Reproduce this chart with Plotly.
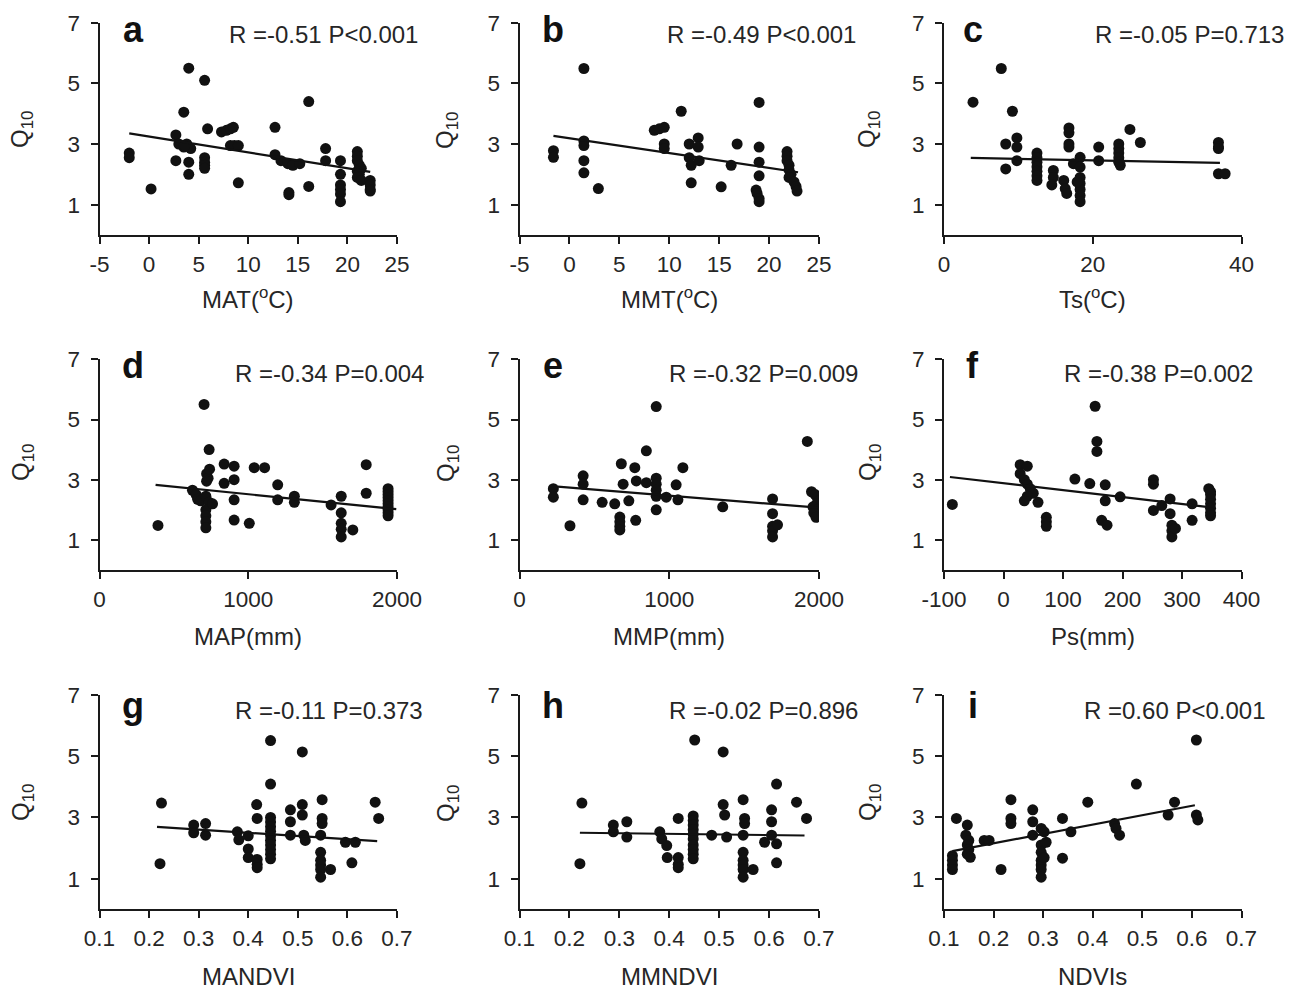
import plotly.graph_objects as go

W, H = 1296, 990

# ---------------- data ----------------
q_a_x = [-2, -2, 0.2, 2.7, 2.7, 3.0, 3.5, 3.8, 4.2, 3.6, 4.0, 3.5, 4.0, 4.0, 5.6, 5.6, 5.6, 5.6, 5.6, 5.9,
         7.3, 7.8, 8.2, 8.5, 8.2, 8.6, 9.0, 9.0, 12.7, 12.7, 13.3, 14.0, 14.5, 15.2, 14.1, 14.1, 16.1, 16.1,
         17.8, 17.8, 19.3, 19.3, 19.3, 19.3, 19.3, 19.3, 21.0, 21.0, 21.0, 21.2, 21.4, 21.0, 21.2, 21.0, 21.4,
         22.3, 22.3, 22.3, 22.3]
q_a_y = [2.7, 2.55, 1.52, 3.3, 2.45, 3.0, 2.9, 3.0, 2.85, 2.95, 5.5, 4.05, 2.4, 2.0, 5.1, 2.55, 2.4, 2.3, 2.2, 3.5,
         3.4, 3.45, 3.5, 3.55, 2.95, 2.95, 2.95, 1.72, 3.55, 2.65, 2.45, 2.35, 2.3, 2.35, 1.4, 1.33, 4.4, 1.6,
         2.85, 2.45, 2.45, 2.0, 1.65, 1.5, 1.35, 1.1, 2.75, 2.6, 2.45, 2.3, 2.2, 2.1, 2.0, 1.9, 1.8,
         1.8, 1.65, 1.5, 1.45]
fit_a_x = [-2, 22.3]
fit_a_y = [3.35, 2.08]

q_b_x = [-1.6, -1.6, 1.45, 1.45, 1.45, 1.45, 1.45, 2.9, 8.5, 9.0, 9.5, 9.5, 9.5, 11.2, 12.0, 12.0, 12.2, 12.2,
         12.9, 12.9, 13.0, 15.2, 16.2, 16.8, 19.0, 19.0, 19.0, 19.0, 18.7, 18.8, 19.0, 19.0,
         21.8, 21.8, 21.8, 22.0, 22.0, 22.2, 22.0, 22.5, 22.7, 22.8]
q_b_y = [2.78, 2.56, 5.49, 3.1, 2.95, 2.45, 2.05, 1.53, 3.45, 3.5, 3.55, 3.0, 2.85, 4.08, 3.0, 2.55, 2.3, 1.72,
         3.2, 2.9, 2.45, 1.59, 2.3, 3.0, 4.37, 2.9, 2.4, 1.95, 1.48, 1.37, 1.2, 1.1,
         2.75, 2.6, 2.45, 2.3, 2.15, 2.0, 1.9, 1.75, 1.6, 1.45]
fit_b_x = [-1.6, 22.9]
fit_b_y = [3.27, 2.07]

q_c_x = [3.9, 7.7, 9.2, 8.3, 8.3, 9.8, 9.8, 9.8, 12.5, 12.5, 12.5, 12.5, 12.5, 12.5, 12.5, 14.7, 14.7, 14.5,
         16.1, 16.3, 16.5, 16.8, 16.8, 16.8, 16.8, 17.4, 18.3, 18.3, 18.3, 18.3, 18.3, 18.3, 18.3, 17.9,
         20.8, 20.8, 23.5, 23.5, 23.5, 23.5, 23.5, 23.7, 25.0, 26.4, 36.9, 36.9, 36.9, 36.9, 37.8]
q_c_y = [4.38, 5.49, 4.08, 3.0, 2.18, 3.2, 2.9, 2.45, 2.7, 2.55, 2.4, 2.25, 2.1, 1.95, 1.8, 2.13, 1.9, 1.65,
         1.8, 1.53, 1.37, 3.53, 3.37, 3.0, 2.9, 2.35, 2.56, 2.24, 1.9, 1.7, 1.5, 1.3, 1.1, 1.75,
         2.9, 2.45, 3.0, 2.85, 2.7, 2.55, 2.4, 2.3, 3.48, 3.05, 3.05, 2.9, 2.85, 2.02, 2.02]
fit_c_x = [3.6, 37.1]
fit_c_y = [2.54, 2.38]

q_d_x = [393, 703, 737, 625, 650, 660, 680, 720, 730, 720, 740, 715, 737, 715, 715, 715, 715, 760,
         838, 905, 838, 905, 905, 905, 1007, 1040, 1110, 1198, 1198, 1310, 1310, 1557, 1625, 1625, 1625,
         1625, 1625, 1703, 1793, 1793, 1940, 1940, 1940, 1940, 1940, 1940, 1940, 1940, 1940, 1940]
q_d_y = [1.48, 5.5, 4.0, 2.65, 2.5, 2.35, 2.3, 3.2, 3.05, 2.95, 3.35, 2.45, 2.25, 2.0, 1.8, 1.6, 1.4, 2.2,
         3.52, 3.45, 2.88, 3.0, 2.33, 1.66, 1.55, 3.4, 3.4, 2.83, 2.33, 2.45, 2.25, 2.16, 2.45, 1.9, 1.55,
         1.35, 1.1, 1.33, 3.5, 2.55, 2.7, 2.6, 2.5, 2.4, 2.3, 2.2, 2.1, 2.0, 1.9, 1.8]
fit_d_x = [377, 1995]
fit_d_y = [2.83, 2.02]

q_e_x = [226, 226, 337, 425, 425, 425, 552, 636, 670, 670, 670, 670, 680, 692, 730, 770, 780, 776, 847, 847,
         913, 913, 913, 913, 913, 913, 980, 1046, 1058, 1091, 1357, 1690, 1690, 1690, 1690, 1690, 1723,
         1922, 1950, 1975, 1990, 2000, 1985, 1960, 1990, 1965, 1980]
q_e_y = [2.7, 2.42, 1.47, 3.13, 2.85, 2.33, 2.25, 2.2, 1.76, 1.6, 1.45, 1.33, 3.53, 2.85, 2.3, 3.4, 2.96, 1.65,
         3.96, 2.9, 5.43, 3.05, 2.85, 2.65, 2.45, 2.0, 2.42, 2.83, 2.33, 3.4, 2.1, 2.36, 1.87, 1.45, 1.3,
         1.1, 1.5, 4.27, 2.6, 2.5, 2.4, 2.3, 2.2, 2.1, 2.0, 1.9, 1.75]
fit_e_x = [255, 1995]
fit_e_y = [2.77, 2.07]

q_f_x = [-86, 28, 40, 28, 35, 40, 45, 50, 40, 35, 58, 72, 72, 72, 120, 145, 154, 157, 157, 171, 171,
         165, 174, 196, 252, 252, 252, 266, 280, 280, 283, 283, 283, 289, 317, 317,
         348, 348, 348, 348, 348, 348, 348, 345]
q_f_y = [2.18, 3.5, 3.45, 3.2, 3.0, 2.85, 2.7, 2.55, 2.45, 2.3, 2.25, 1.75, 1.6, 1.45, 3.02, 2.87, 5.44, 4.27,
         3.94, 2.83, 2.3, 1.65, 1.49, 2.43, 3.0, 2.85, 1.98, 2.14, 2.36, 1.87, 1.49, 1.3, 1.1, 1.38, 2.2, 1.65,
         2.6, 2.5, 2.35, 2.2, 2.05, 1.9, 1.8, 2.7]
fit_f_x = [-90, 345]
fit_f_y = [3.09, 2.09]

q_g_x = [0.225, 0.222, 0.29, 0.29, 0.314, 0.314, 0.378, 0.381, 0.4, 0.4, 0.4, 0.417, 0.418, 0.418, 0.418,
         0.418, 0.445, 0.445, 0.445, 0.445, 0.445, 0.445, 0.445, 0.445, 0.445, 0.445, 0.445, 0.445,
         0.485, 0.485, 0.485, 0.509, 0.509, 0.509, 0.512, 0.515, 0.549, 0.549, 0.549, 0.546, 0.546, 0.546,
         0.546, 0.546, 0.546, 0.566, 0.596, 0.616, 0.609, 0.656, 0.663]
q_g_y = [3.47, 1.49, 2.75, 2.5, 2.8, 2.42, 2.53, 2.27, 2.4, 1.97, 1.69, 3.42, 2.97, 1.63, 1.47, 1.36, 5.51, 4.09,
         3.0, 2.85, 2.7, 2.55, 2.4, 2.25, 2.1, 1.95, 1.8, 1.65, 3.25, 2.86, 2.42, 5.14, 3.42, 3.08, 2.42, 2.25,
         3.58, 2.97, 2.8, 2.42, 1.86, 1.6, 1.45, 1.3, 1.05, 1.3, 2.19, 2.19, 1.52, 3.5, 2.97]
fit_g_x = [0.216, 0.66]
fit_g_y = [2.69, 2.23]

q_h_x = [0.225, 0.221, 0.288, 0.288, 0.315, 0.315, 0.381, 0.385, 0.395, 0.396, 0.418, 0.418, 0.418, 0.418,
         0.451, 0.448, 0.448, 0.448, 0.448, 0.448, 0.448, 0.448, 0.448, 0.448, 0.448, 0.485, 0.508, 0.508,
         0.511, 0.515, 0.548, 0.551, 0.551, 0.548, 0.548, 0.548, 0.548, 0.548, 0.548, 0.568, 0.591, 0.605,
         0.605, 0.605, 0.615, 0.615, 0.615, 0.655, 0.675]
q_h_y = [3.47, 1.49, 2.75, 2.53, 2.86, 2.36, 2.53, 2.3, 2.08, 1.69, 2.97, 1.69, 1.47, 1.36, 5.53, 3.05, 2.9,
         2.75, 2.6, 2.45, 2.3, 2.1, 1.95, 1.8, 1.65, 2.42, 5.14, 3.42, 3.08, 2.36, 3.58, 2.97, 2.8, 2.42, 1.86,
         1.6, 1.45, 1.3, 1.05, 1.3, 2.19, 3.25, 2.86, 2.42, 4.09, 2.14, 1.52, 3.5, 2.97]
fit_h_x = [0.221, 0.671]
fit_h_y = [2.5, 2.41]

q_i_x = [0.125, 0.117, 0.117, 0.117, 0.117, 0.147, 0.144, 0.15, 0.147, 0.15, 0.147, 0.153, 0.181, 0.191,
         0.215, 0.235, 0.235, 0.235, 0.279, 0.279, 0.279, 0.296, 0.296, 0.296, 0.296, 0.296, 0.296, 0.296,
         0.302, 0.306, 0.302, 0.339, 0.339, 0.356, 0.39, 0.444, 0.447, 0.454, 0.488, 0.552, 0.565, 0.609,
         0.609, 0.612]
q_i_y = [2.97, 1.75, 1.6, 1.45, 1.3, 2.75, 2.42, 2.25, 2.1, 1.95, 1.8, 1.7, 2.25, 2.25, 1.3, 3.58, 2.97, 2.8,
         3.25, 2.86, 2.42, 2.64, 2.1, 1.86, 1.6, 1.45, 1.3, 1.05, 2.53, 2.19, 1.69, 2.97, 1.67, 2.53, 3.5,
         2.8, 2.64, 2.42, 4.09, 3.08, 3.5, 5.53, 3.08, 2.92]
fit_i_x = [0.117, 0.606]
fit_i_y = [1.9, 3.4]

panel_letters = ["a", "b", "c", "d", "e", "f", "g", "h", "i"]
stats_text = ["R =-0.51 P<0.001", "R =-0.49 P<0.001", "R =-0.05 P=0.713",
              "R =-0.34 P=0.004", "R =-0.32 P=0.009", "R =-0.38 P=0.002",
              "R =-0.11 P=0.373", "R =-0.02 P=0.896", "R =0.60 P<0.001"]
x_titles = ["MAT(<sup>o</sup>C)", "MMT(<sup>o</sup>C)", "Ts(<sup>o</sup>C)",
            "MAP(mm)", "MMP(mm)", "Ps(mm)", "MANDVI", "MMNDVI", "NDVIs"]
x_ranges = [[-5, 25], [-5, 25], [0, 40], [0, 2000], [0, 2000], [-100, 400],
            [0.1, 0.7], [0.1, 0.7], [0.1, 0.7]]
x_ticks = [[-5, 0, 5, 10, 15, 20, 25], [-5, 0, 5, 10, 15, 20, 25], [0, 20, 40],
           [0, 1000, 2000], [0, 1000, 2000], [-100, 0, 100, 200, 300, 400],
           [0.1, 0.2, 0.3, 0.4, 0.5, 0.6, 0.7], [0.1, 0.2, 0.3, 0.4, 0.5, 0.6, 0.7],
           [0.1, 0.2, 0.3, 0.4, 0.5, 0.6, 0.7]]
x_tick_text = [["-5", "0", "5", "10", "15", "20", "25"], ["-5", "0", "5", "10", "15", "20", "25"],
               ["0", "20", "40"], ["0", "1000", "2000"], ["0", "1000", "2000"],
               ["-100", "0", "100", "200", "300", "400"],
               ["0.1", "0.2", "0.3", "0.4", "0.5", "0.6", "0.7"], ["0.1", "0.2", "0.3", "0.4", "0.5", "0.6", "0.7"],
               ["0.1", "0.2", "0.3", "0.4", "0.5", "0.6", "0.7"]]
y_range = [0, 7]
y_ticks = [1, 3, 5, 7]

pts = [(q_a_x, q_a_y, fit_a_x, fit_a_y), (q_b_x, q_b_y, fit_b_x, fit_b_y), (q_c_x, q_c_y, fit_c_x, fit_c_y),
       (q_d_x, q_d_y, fit_d_x, fit_d_y), (q_e_x, q_e_y, fit_e_x, fit_e_y), (q_f_x, q_f_y, fit_f_x, fit_f_y),
       (q_g_x, q_g_y, fit_g_x, fit_g_y), (q_h_x, q_h_y, fit_h_x, fit_h_y), (q_i_x, q_i_y, fit_i_x, fit_i_y)]

# ---------------- layout geometry (pixels) ----------------
col_px = [(99.5, 397), (519.5, 819), (944, 1241.5)]
row_px = [(22.7, 235), (359.3, 570), (695, 909.3)]
q_x_px = [22, 447, 869]
q_y_px = [130, 463, 803]
xt_y_px = [298, 636, 976]
letter_x_px = [133, 553, 973]
letter_y_px = [30, 365, 705]
stat_left_px = [[227, 665, 1093], [233, 667, 1062], [233, 667, 1082]]
stat_y_px = [34, 373, 710]

def px(x):
    return x / W

def py(y):
    return 1 - y / H

FONT = "Liberation Sans, Arial, sans-serif"
TXT = "#262626"
fig = go.Figure()
layout = dict(width=W, height=H, margin=dict(l=0, r=0, t=0, b=0, autoexpand=False),
              paper_bgcolor="white", plot_bgcolor="white", showlegend=False,
              font=dict(family=FONT, size=22, color=TXT))
annotations = []

for k in range(9):
    r, c = divmod(k, 3)
    xs, ys, fx, fy = pts[k]
    sfx = "" if k == 0 else str(k + 1)
    fig.add_trace(go.Scatter(x=xs, y=ys, mode="markers", xaxis="x" + sfx, yaxis="y" + sfx,
                             marker=dict(size=11, color="#111111", line=dict(width=0))))
    fig.add_trace(go.Scatter(x=fx, y=fy, mode="lines", xaxis="x" + sfx, yaxis="y" + sfx,
                             line=dict(color="#111111", width=2.2)))
    x0, x1 = col_px[c]
    y0, y1 = row_px[r]
    layout["xaxis" + sfx] = dict(domain=[px(x0), px(x1)], range=x_ranges[k], tickvals=x_ticks[k],
                                 ticktext=x_tick_text[k], automargin=False,
                                 showgrid=False, zeroline=False, showline=True, linecolor="#1a1a1a",
                                 linewidth=2, ticks="outside", ticklen=7, tickwidth=2, tickcolor="#1a1a1a",
                                 anchor="y" + sfx, tickfont=dict(size=22.5, color=TXT),
                                 ticklabelstandoff=1)
    layout["yaxis" + sfx] = dict(domain=[py(y1), py(y0)], range=y_range, tickvals=y_ticks, automargin=False,
                                 showgrid=False, zeroline=False, showline=True, linecolor="#1a1a1a",
                                 linewidth=2, ticks="outside", ticklen=7, tickwidth=2, tickcolor="#1a1a1a",
                                 anchor="x" + sfx, tickfont=dict(size=22.5, color=TXT),
                                 ticklabelstandoff=6)
    annotations.append(dict(text="<b>%s</b>" % panel_letters[k], x=px(letter_x_px[c]), y=py(letter_y_px[r]),
                            xref="paper", yref="paper", showarrow=False, xanchor="center", yanchor="middle",
                            font=dict(size=36, color="#111", family=FONT)))
    annotations.append(dict(text=stats_text[k], x=px(stat_left_px[r][c]), y=py(stat_y_px[r]),
                            xref="paper", yref="paper", showarrow=False, xanchor="left", yanchor="middle",
                            font=dict(size=24, color=TXT, family=FONT)))
    annotations.append(dict(text=x_titles[k], x=px((x0 + x1) / 2), y=py(xt_y_px[r]),
                            xref="paper", yref="paper", showarrow=False, xanchor="center", yanchor="middle",
                            font=dict(size=24, color=TXT, family=FONT)))
    annotations.append(dict(text="Q<sub>10</sub>", x=px(q_x_px[c]), y=py(q_y_px[r]), textangle=-90,
                            xref="paper", yref="paper", showarrow=False, xanchor="center", yanchor="middle",
                            font=dict(size=24, color=TXT, family=FONT)))

layout["annotations"] = annotations
fig.update_layout(**layout)
fig.write_html("out.html")
